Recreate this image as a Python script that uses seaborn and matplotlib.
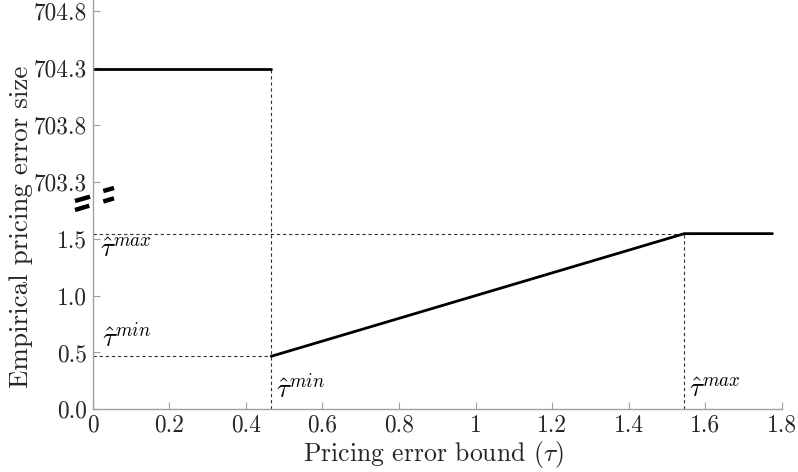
import numpy as np
import pandas as pd
import matplotlib
matplotlib.use("Agg")
import matplotlib.pyplot as plt
from matplotlib.lines import Line2D
import seaborn as sns

# ---- data ----
tau_min = 0.466
tau_max = 1.545
upper_x = [0.0, tau_min]
upper_y = [704.29, 704.29]
lower_x = [tau_min, tau_max, 1.775]
lower_y = [tau_min, tau_max, tau_max]
xticks = [0, 0.2, 0.4, 0.6, 0.8, 1.0, 1.2, 1.4, 1.6, 1.8]
xticklabels = ["0", "0.2", "0.4", "0.6", "0.8", "1", "1.2", "1.4", "1.6", "1.8"]
yticks = [0.0, 0.5, 1.0, 1.5, 703.3, 703.8, 704.3, 704.8]
yticklabels = ["0.0", "0.5", "1.0", "1.5", "703.3", "703.8", "704.3", "704.8"]

sns.set_style("ticks")
plt.rcParams["font.family"] = ["cmr10", "DejaVu Serif"]
plt.rcParams["mathtext.fontset"] = "cm"
plt.rcParams["axes.unicode_minus"] = False
plt.rcParams["axes.formatter.use_mathtext"] = True

BREAK_LO, BREAK_HI = 2.0, 703.3
OFFSET = BREAK_HI - BREAK_LO


def fwd(y):
    y = np.asarray(y, dtype=float)
    return np.where(y < BREAK_LO, y, np.where(y > BREAK_HI, y - OFFSET, BREAK_LO))


def inv(t):
    t = np.asarray(t, dtype=float)
    return np.where(t <= BREAK_LO, t, t + OFFSET)


fig = plt.figure(figsize=(7.98, 4.72), dpi=100)
ax = fig.add_axes([92.7 / 798, 1 - 409.3 / 472, (782 - 92.7) / 798, 409.3 / 472])
ax.set_yscale("function", functions=(fwd, inv))

df_up = pd.DataFrame({"tau": upper_x, "err": upper_y})
df_lo = pd.DataFrame({"tau": lower_x, "err": lower_y})
sns.lineplot(data=df_up, x="tau", y="err", ax=ax, color="black", lw=2.0, sort=False, estimator=None)
sns.lineplot(data=df_lo, x="tau", y="err", ax=ax, color="black", lw=2.0, sort=False, estimator=None)

dash = dict(color="#333333", lw=0.8, ls=(0, (3, 2.5)), zorder=1)
ax.plot([tau_min, tau_min], [0, upper_y[0]], **dash)
ax.plot([0, tau_min], [tau_min, tau_min], **dash)
ax.plot([0, 1.58], [tau_max, tau_max], **dash)
ax.plot([tau_max, tau_max], [0, tau_max], **dash)

ax.set_xlim(0, 1.8)
ax.set_ylim(0, 704.9)
ax.set_xticks(xticks)
ax.set_xticklabels(xticklabels)
ax.set_yticks(yticks)
ax.set_yticklabels(yticklabels)
ax.minorticks_off()

for s in ["top", "right"]:
    ax.spines[s].set_visible(False)
for s in ["left", "bottom"]:
    ax.spines[s].set_color("#a0a0a0")
    ax.spines[s].set_linewidth(1.0)
ax.tick_params(direction="in", length=5, width=0.8, color="#a0a0a0", labelsize=16.8, pad=4)

ax.set_xlabel(r"Pricing error bound ($\tau$)", fontsize=18.5)
ax.xaxis.label.set_va("top")
ax.xaxis.set_label_coords(0.495, -0.072)
ax.set_ylabel("Empirical pricing error size", fontsize=19.5)
ax.yaxis.set_label_coords(-0.086, 0.445)

ann = dict(fontsize=19.5, color="black")
ax.text(0.02, 1.50, r"$\hat{\tau}^{max}$", va="top", ha="left", **ann)
ax.text(0.025, 0.51, r"$\hat{\tau}^{min}$", va="bottom", ha="left", **ann)
ax.text(tau_min + 0.012, 0.06, r"$\hat{\tau}^{min}$", va="bottom", ha="left", **ann)
ax.text(tau_max + 0.012, 0.06, r"$\hat{\tau}^{max}$", va="bottom", ha="left", **ann)

# axis-break marks (figure pixel coordinates)
W, H = 798, 472
marks = [((75, 201), (90, 196.7)), ((75, 210), (89.3, 205.7)),
         ((103.3, 191), (114, 188)), ((103.3, 201.5), (114, 198.3))]
for (x0, y0), (x1, y1) in marks:
    fig.add_artist(Line2D([x0 / W, x1 / W], [1 - y0 / H, 1 - y1 / H],
                          transform=fig.transFigure, color="black", lw=3.2,
                          solid_capstyle="butt"))

fig.savefig("out.png", dpi=100)
